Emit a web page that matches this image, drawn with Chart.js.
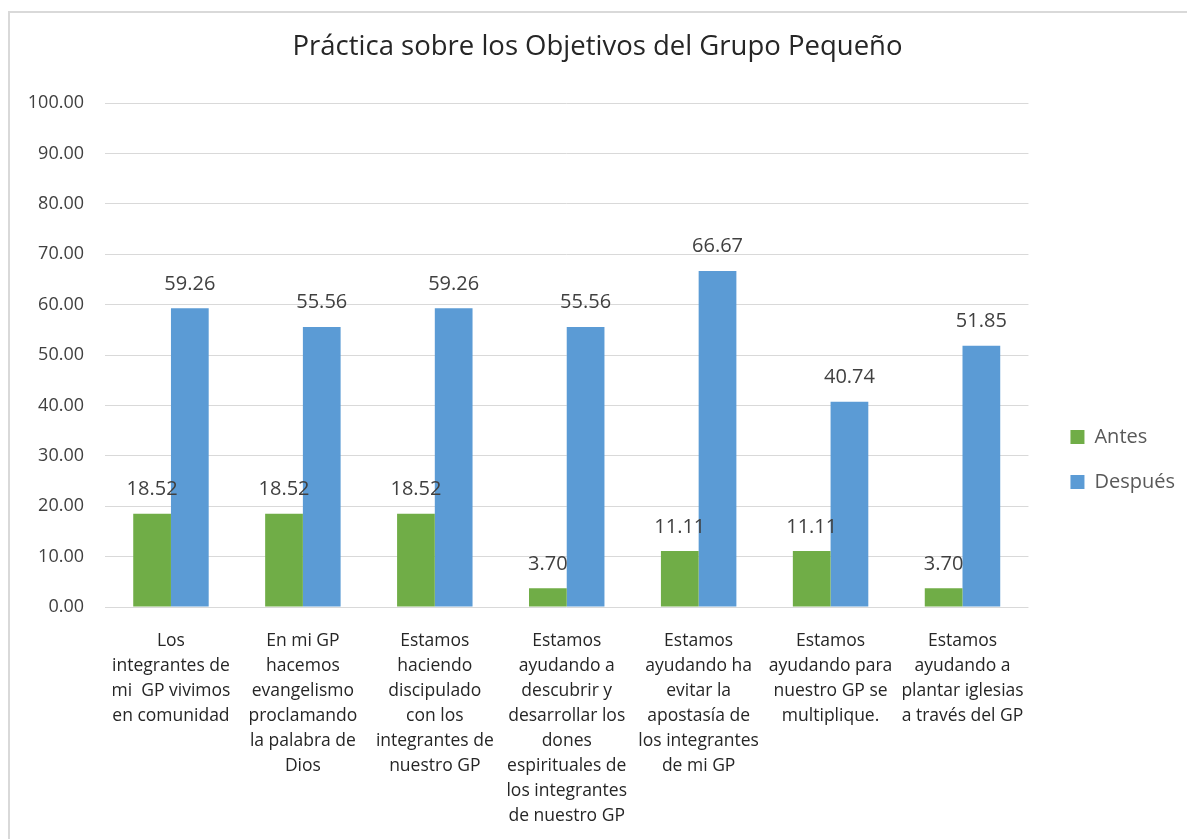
<!DOCTYPE html>
<html>
<head>
<meta charset="utf-8">
<script src="https://cdn.jsdelivr.net/npm/chart.js@4/dist/chart.umd.min.js"></script>
<style>
  html, body { margin: 0; padding: 0; background: #fff; overflow: hidden; }
  #wrap { position: relative; width: 1187px; height: 839px; }
  #frame { position: absolute; left: 8px; top: 11px; width: 1300px; height: 1000px; border: 1px solid #d9d9d9; border-width: 2px 0 0 2px; }
  canvas { position: absolute; left: 0; top: 0; }
</style>
</head>
<body>
<div id="wrap">
  <div id="frame"></div>
  <canvas id="c" width="1187" height="839"></canvas>
</div>
<script>
const chartTitle = 'Práctica sobre los Objetivos del Grupo Pequeño';
const categories = [
  ['Los', 'integrantes de', 'mi  GP vivimos', 'en comunidad'],
  ['En mi GP', 'hacemos', 'evangelismo', 'proclamando', 'la palabra de', 'Dios'],
  ['Estamos', 'haciendo', 'discipulado', 'con los', 'integrantes de', 'nuestro GP'],
  ['Estamos', 'ayudando a', 'descubrir y', 'desarrollar los', 'dones', 'espirituales de', 'los integrantes', 'de nuestro GP'],
  ['Estamos', 'ayudando ha', 'evitar la', 'apostasía de', 'los integrantes', 'de mi GP'],
  ['Estamos', 'ayudando para', 'nuestro GP se', 'multiplique.'],
  ['Estamos', 'ayudando a', 'plantar iglesias', 'a través del GP']
];
const seriesNames = ['Antes', 'Después'];
const antes = [18.52, 18.52, 18.52, 3.70, 11.11, 11.11, 3.70];
const despues = [59.26, 55.56, 59.26, 55.56, 66.67, 40.74, 51.85];
const yTicks = [0, 10, 20, 30, 40, 50, 60, 70, 80, 90, 100];

const FONT = '"Open Sans", Lato, sans-serif';

const valueLabels = {
  id: 'valueLabels',
  afterDatasetsDraw(chart) {
    const ctx = chart.ctx;
    ctx.save();
    ctx.font = '20px ' + FONT;
    ctx.fillStyle = '#404040';
    ctx.textAlign = 'center';
    ctx.textBaseline = 'alphabetic';
    chart.data.datasets.forEach((ds, i) => {
      chart.getDatasetMeta(i).data.forEach((bar, j) => {
        ctx.fillText(ds.data[j].toFixed(2), bar.x, bar.y - 18.5);
      });
    });
    ctx.restore();
  }
};

new Chart(document.getElementById('c'), {
  type: 'bar',
  data: {
    labels: categories,
    datasets: [
      { label: seriesNames[0], data: antes, backgroundColor: '#70AD47', categoryPercentage: 0.572, barPercentage: 1.0 },
      { label: seriesNames[1], data: despues, backgroundColor: '#5B9BD5', categoryPercentage: 0.572, barPercentage: 1.0 }
    ]
  },
  options: {
    responsive: false,
    animation: false,
    devicePixelRatio: 1,
    layout: { padding: { left: 10, right: 2, top: 0, bottom: 12 } },
    plugins: {
      title: {
        display: true,
        text: chartTitle,
        color: '#262626',
        font: { family: FONT, size: 27.5, weight: 'normal', lineHeight: 1.2 },
        padding: { top: 31, bottom: 39 }
      },
      legend: {
        position: 'right',
        title: { display: true, text: ' ', font: { size: 12, lineHeight: 1 }, padding: { top: 0, bottom: 80 } },
        labels: {
          color: '#595959',
          font: { family: FONT, size: 20 },
          boxWidth: 14,
          boxHeight: 14,
          padding: 25
        }
      },
      tooltip: { enabled: false }
    },
    scales: {
      x: {
        grid: { display: false, drawTicks: false },
        border: { display: false },
        afterFit: (s) => { s.height = 220; },
        ticks: {
          color: '#262626',
          font: { family: FONT, size: 17.5, lineHeight: 25 / 17.5 },
          padding: 22,
          maxRotation: 0,
          autoSkip: false
        }
      },
      y: {
        min: 0,
        max: 100,
        afterBuildTicks: (s) => { s.ticks = yTicks.map(v => ({ value: v })); },
        afterFit: (s) => { s.width = 95; },
        grid: { color: '#d9d9d9', lineWidth: 1, drawTicks: false },
        border: { display: false },
        ticks: {
          color: '#404040',
          font: { family: FONT, size: 18 },
          padding: 21,
          callback: (v) => Number(v).toFixed(2)
        }
      },
      yr: {
        position: 'right',
        display: true,
        grid: { display: false, drawTicks: false },
        border: { display: false },
        ticks: { display: false },
        afterFit: (s) => { s.width = 17; }
      }
    }
  },
  plugins: [valueLabels]
});
</script>
</body>
</html>
